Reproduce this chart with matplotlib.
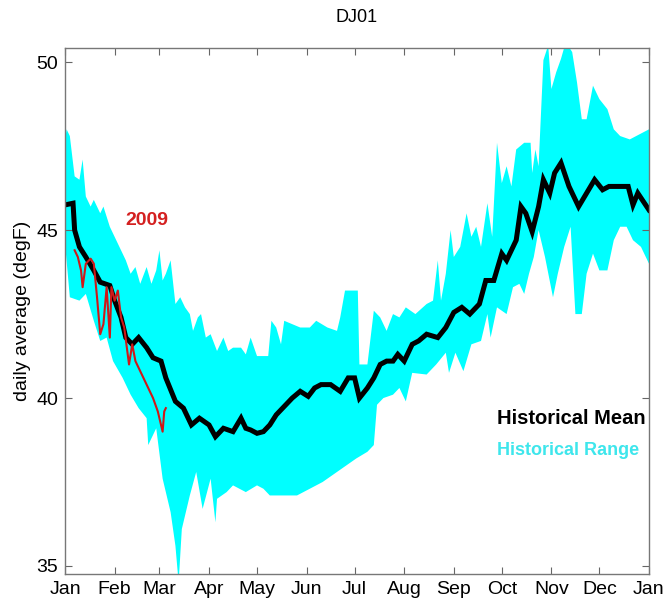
import matplotlib
matplotlib.use('Agg')
import matplotlib.pyplot as plt
import numpy as np

plt.rcParams['font.family'] = ['Liberation Sans', 'DejaVu Sans']

# day of year -> value (degF)
mean_day = [0, 5, 6, 9, 13, 18, 22, 28, 31, 35, 38, 42, 46, 51, 55, 60, 63, 69, 74, 79,
            84, 90, 94, 99, 105, 110, 113, 116, 120, 124, 128, 132, 136, 142, 147, 152, 156,
            160, 166, 172, 177, 181, 184, 189, 193, 197, 201, 205, 208, 212, 217, 221, 226,
            233, 238, 243, 248, 253, 259, 263, 268, 273, 276, 282, 285, 288, 292, 296, 299,
            303, 306, 310, 315, 321, 326, 331, 336, 340, 347, 352, 355, 358, 365]
mean_val = [45.75, 45.8, 45.0, 44.5, 44.2, 43.8, 43.45, 43.35, 42.9, 42.4, 41.8, 41.6, 41.8,
            41.5, 41.2, 41.1, 40.6, 39.9, 39.7, 39.2, 39.4, 39.2, 38.85, 39.1, 39.0, 39.4,
            39.1, 39.05, 38.95, 39.0, 39.2, 39.5, 39.7, 40.0, 40.2, 40.05, 40.3, 40.4, 40.4,
            40.2, 40.6, 40.6, 40.0, 40.3, 40.6, 41.0, 41.1, 41.1, 41.3, 41.1, 41.6, 41.7,
            41.9, 41.8, 42.1, 42.55, 42.7, 42.5, 42.8, 43.5, 43.5, 44.3, 44.1, 44.7, 45.7,
            45.5, 44.95, 45.7, 46.5, 46.1, 46.7, 47.0, 46.3, 45.7, 46.1, 46.5, 46.2, 46.3,
            46.3, 46.3, 45.75, 46.1, 45.6]

upper_day = [0, 1, 3, 6, 9, 11, 13, 16, 18, 22, 24, 28, 33, 38, 41, 44, 47, 51, 54, 57, 59,
             61, 63, 66, 69, 72, 75, 78, 80, 83, 85, 88, 91, 95, 99, 102, 105, 110, 113, 116,
             120, 127, 129, 132, 135, 137, 142, 147, 153, 157, 164, 170, 172, 175, 183, 184,
             189, 193, 197, 201, 205, 209, 213, 219, 226, 230, 233, 235, 238, 241, 243, 247,
             251, 254, 257, 260, 264, 267, 270, 273, 276, 279, 282, 287, 291, 292, 294, 296,
             299, 302, 304, 307, 310, 313, 317, 320, 323, 326, 330, 334, 339, 343, 347, 353,
             357, 361, 365]
upper_val = [47.7, 48.0, 47.8, 46.6, 46.5, 47.1, 46.0, 45.7, 45.9, 45.5, 45.7, 45.1, 44.6,
             44.1, 43.7, 43.9, 43.4, 43.9, 43.4, 43.8, 44.4, 43.5, 43.7, 44.1, 42.8, 43.0,
             42.7, 42.5, 42.0, 42.4, 42.5, 41.8, 41.9, 41.4, 41.8, 41.4, 41.5, 41.5, 41.3,
             41.8, 41.25, 41.25, 42.3, 42.1, 41.6, 42.3, 42.2, 42.1, 42.1, 42.3, 42.1, 42.0,
             42.4, 43.2, 43.2, 41.0, 41.0, 42.6, 42.4, 42.0, 42.5, 42.4, 42.7, 42.5, 42.8,
             42.9, 44.1, 42.9, 43.7, 45.0, 44.2, 44.5, 45.5, 44.8, 45.1, 44.5, 45.8, 44.8,
             47.6, 46.4, 46.9, 46.3, 47.4, 47.6, 47.6, 46.7, 47.4, 46.9, 50.06, 50.5, 49.2,
             49.7, 50.1, 50.6, 50.3, 49.4, 48.3, 48.3, 49.3, 48.9, 48.6, 48.0, 47.8, 47.7,
             47.8, 47.9, 48.0]

lower_day = [0, 3, 9, 13, 18, 22, 26, 30, 36, 41, 46, 51, 52, 57, 61, 66, 69, 71, 73, 78,
             82, 86, 91, 94, 95, 101, 105, 113, 120, 124, 128, 136, 145, 153, 161, 170, 176,
             182, 189, 193, 195, 199, 205, 209, 213, 217, 226, 232, 238, 240, 244, 249, 254,
             260, 264, 266, 270, 276, 280, 284, 287, 290, 293, 296, 300, 305, 308, 312, 316,
             319, 323, 326, 330, 334, 339, 343, 347, 351, 355, 360, 365]
lower_val = [44.6, 43.0, 42.9, 43.1, 42.3, 41.7, 41.8, 41.1, 40.6, 40.1, 39.7, 39.4, 38.6,
             39.1, 37.6, 36.6, 35.6, 34.5, 36.1, 37.1, 37.8, 36.7, 37.6, 36.3, 37.0, 37.2,
             37.4, 37.2, 37.4, 37.3, 37.1, 37.1, 37.1, 37.3, 37.5, 37.8, 38.0, 38.2, 38.4,
             38.6, 39.8, 40.0, 40.1, 40.3, 39.9, 40.75, 40.7, 41.0, 41.35, 40.75, 41.35, 40.8,
             41.6, 41.7, 42.5, 41.8, 42.7, 42.5, 43.3, 43.4, 43.1, 43.7, 44.2, 45.0, 44.2,
             43.0, 43.7, 44.5, 45.1, 42.5, 42.5, 43.7, 44.3, 43.8, 43.8, 44.7, 45.1, 45.1,
             44.7, 44.5, 44.0]

y2009_day = [6, 8, 10, 11, 13, 16, 18, 20, 22, 24, 26, 28, 29, 31, 33, 35, 37, 40, 42, 44,
             48, 52, 55, 58, 61, 62, 63]
y2009_val = [44.4, 44.2, 43.8, 43.3, 44.0, 44.15, 44.0, 43.0, 41.9, 42.2, 43.3, 41.8, 43.3,
             42.9, 43.2, 42.4, 42.1, 41.0, 41.6, 41.1, 40.7, 40.3, 40.0, 39.6, 39.0, 39.6,
             39.7]

month_starts = [0, 31, 59, 90, 120, 151, 181, 212, 243, 273, 304, 334, 365]
month_labels = ['Jan', 'Feb', 'Mar', 'Apr', 'May', 'Jun', 'Jul', 'Aug', 'Sep', 'Oct',
                'Nov', 'Dec', 'Jan']

fig = plt.figure(figsize=(6.67, 6.12), dpi=100)
ax = fig.add_axes([0.0975, 0.062, 0.8755, 0.8595])

poly_x = np.r_[upper_day, lower_day[::-1]]
poly_y = np.r_[upper_val, lower_val[::-1]]
ax.fill(poly_x, poly_y, color='#00ffff', lw=0)
ax.plot(mean_day, mean_val, color='black', lw=3.6, solid_joinstyle='miter')
ax.plot(y2009_day, y2009_val, color='#d01818', lw=1.5)

ax.set_xlim(0, 365)
ax.set_ylim(34.76, 50.42)
ax.set_xticks(month_starts)
ax.set_xticklabels(month_labels)
ax.set_yticks([35, 40, 45, 50])
ax.tick_params(direction='in', top=True, right=True, length=5, width=0.8,
               color='#666666', labelsize=14, pad=5)
for s in ax.spines.values():
    s.set_color('#777777')
    s.set_linewidth(1.0)

ax.set_ylabel('daily average (degF)', fontsize=14, labelpad=4)
fig.text(0.535, 1 - 17 / 612, 'DJ01', ha='center', va='center', fontsize=13)

ax.text(51, 45.3, '2009', color='#d42020', fontsize=14, fontweight='bold',
        ha='center', va='center')
ax.text(270, 39.4, 'Historical Mean', color='black', fontsize=14.5, fontweight='bold',
        ha='left', va='center', clip_on=False)
ax.text(270, 38.45, 'Historical Range', color='#3ee6ec', fontsize=13, fontweight='bold',
        ha='left', va='center')

fig.savefig('out.png', dpi=100)
